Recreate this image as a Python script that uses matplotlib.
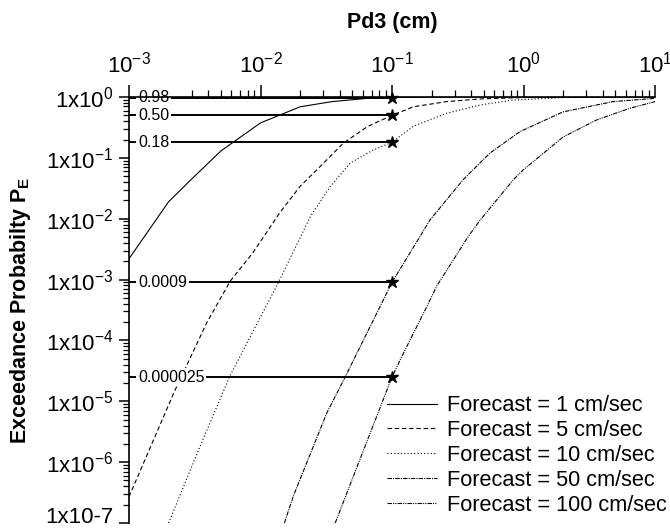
import numpy as np
import matplotlib
matplotlib.use("Agg")
import matplotlib.pyplot as plt
from matplotlib.ticker import FixedLocator, FixedFormatter, LogLocator, NullFormatter

plt.rcParams['font.family'] = ['Liberation Sans', 'DejaVu Sans']
plt.rcParams['mathtext.fontset'] = 'custom'
plt.rcParams['mathtext.rm'] = 'Liberation Sans'
plt.rcParams['mathtext.bf'] = 'Liberation Sans:bold'
plt.rcParams['mathtext.default'] = 'regular'

# curves (Pd3 in cm, exceedance probability)
x_f1 = [0.001, 0.002, 0.003, 0.005, 0.01, 0.02, 0.035, 0.065, 0.1, 0.2, 1.0, 10.0]
y_f1 = [0.0022, 0.019, 0.045, 0.13, 0.375, 0.69, 0.84, 0.95, 0.98, 0.998, 1.0, 1.0]

x_f5 = [0.001, 0.0022, 0.0039, 0.0059, 0.0088, 0.014, 0.02, 0.0284, 0.0426, 0.065,
        0.1, 0.145, 0.26, 0.47, 1.0, 10.0]
y_f5 = [2.7e-7, 1.4e-5, 1.95e-4, 9.5e-4, 0.0028, 0.0125, 0.034, 0.072, 0.174, 0.326,
        0.5, 0.69, 0.84, 0.93, 0.98, 1.0]

x_f10 = [0.002, 0.0035, 0.0058, 0.0089, 0.0137, 0.024, 0.034, 0.048, 0.072, 0.1,
         0.145, 0.26, 0.47, 0.83, 2.0, 10.0]
y_f10 = [1e-7, 1.9e-6, 2.5e-5, 1.5e-4, 9e-4, 0.011, 0.034, 0.082, 0.135, 0.18,
         0.33, 0.54, 0.74, 0.89, 0.98, 1.0]

x_f50 = [0.0152, 0.0178, 0.032, 0.044, 0.1, 0.195, 0.348, 0.556, 0.94,
         2.0, 4.8, 10.0]
y_f50 = [1e-7, 2.8e-7, 6.5e-6, 2.5e-5, 9e-4, 0.0096, 0.044, 0.12, 0.27,
         0.57, 0.84, 0.95]

x_f100 = [0.037, 0.0546, 0.1, 0.119, 0.184, 0.22, 0.38, 0.47, 0.84, 1.0, 2.0, 3.6,
          6.4, 10.0]
y_f100 = [1e-7, 8.7e-7, 2.5e-5, 5.5e-5, 3.6e-4, 8e-4, 0.0051, 0.0096, 0.044, 0.064,
          0.22, 0.42, 0.65, 0.84]

labels = ['Forecast = 1 cm/sec', 'Forecast = 5 cm/sec', 'Forecast = 10 cm/sec',
          'Forecast = 50 cm/sec', 'Forecast = 100 cm/sec']

# probability levels marked at Pd3 = 0.1 cm
lvl_x = 0.1
lvl_y = [0.98, 0.5, 0.18, 0.0009, 0.000025]
lvl_txt = ['0.98', '0.50', '0.18', '0.0009', '0.000025']

ytick_vals = [1e0, 1e-1, 1e-2, 1e-3, 1e-4, 1e-5, 1e-6, 1e-7]
ytick_txt = ['1x10$^{0}$', '1x10$^{-1}$', '1x10$^{-2}$', '1x10$^{-3}$',
             '1x10$^{-4}$', '1x10$^{-5}$', '1x10$^{-6}$', '1x10-7']
xtick_vals = [1e-3, 1e-2, 1e-1, 1e0, 1e1]
xtick_txt = ['10$^{-3}$', '10$^{-2}$', '10$^{-1}$', '10$^{0}$', '10$^{1}$']

fig = plt.figure(figsize=(6.7, 5.31), dpi=100)
ax = fig.add_axes([129 / 670, 8 / 531, 526 / 670, 426 / 531])

styles = ['-', (0, (4, 2.5)), (0, (1, 2)), (0, (4, 1, 1, 1)), (0, (4, 1, 1, 1, 1, 1))]
series = [(x_f1, y_f1), (x_f5, y_f5), (x_f10, y_f10), (x_f50, y_f50), (x_f100, y_f100)]
for (xs, ys), ls, lab in zip(series, styles, labels):
    ax.plot(xs, ys, color='black', lw=0.8, ls=ls, label=lab)

for yv, t in zip(lvl_y, lvl_txt):
    ax.plot([1e-3, lvl_x], [yv, yv], color='black', lw=1.4, solid_capstyle='butt')
    ax.plot([lvl_x], [yv], marker='*', color='black', ms=9, clip_on=False, zorder=5)
    ax.annotate(t, xy=(0, yv), xycoords=('axes fraction', 'data'),
                xytext=(6.5, 0), textcoords='offset points', va='center', ha='left',
                fontsize=11.5, bbox=dict(boxstyle='square,pad=0.1', fc='white', ec='none'),
                zorder=4)

ax.set_xscale('log')
ax.set_yscale('log')
ax.set_xlim(1e-3, 1e1)
ax.set_ylim(1e-7, 1e0)

for s in ['bottom', 'right']:
    ax.spines[s].set_visible(False)
for s in ['top', 'left']:
    ax.spines[s].set_linewidth(1.2)
    ax.spines[s].set_zorder(6)

ax.xaxis.set_ticks_position('top')
ax.xaxis.set_label_position('top')
ax.xaxis.set_major_locator(FixedLocator(xtick_vals))
ax.xaxis.set_major_formatter(FixedFormatter(xtick_txt))
ax.xaxis.set_minor_locator(LogLocator(base=10, subs=np.arange(2, 10)))
ax.xaxis.set_minor_formatter(NullFormatter())
ax.yaxis.set_major_locator(FixedLocator(ytick_vals))
ax.yaxis.set_major_formatter(FixedFormatter(ytick_txt))
ax.yaxis.set_minor_locator(LogLocator(base=10, subs=np.arange(2, 10)))
ax.yaxis.set_minor_formatter(NullFormatter())

ax.tick_params(axis='x', which='major', direction='out', length=9, width=1.1,
               labelsize=16, pad=5)
ax.tick_params(axis='x', which='minor', direction='out', length=5, width=0.9)
ax.tick_params(axis='y', which='major', direction='out', length=7, width=1.1,
               labelsize=16, pad=4)
ax.tick_params(axis='y', which='minor', direction='out', length=4.5, width=0.9)

ax.set_xlabel('Pd3 (cm)', fontsize=15.5, fontweight='bold', labelpad=17)
ax.set_ylabel('Exceedance Probabilty P$_{\\mathbf{E}}$', fontsize=15.5, fontweight='bold')
ax.yaxis.set_label_coords(-0.183, 0.5)

ax.legend(loc='upper left', bbox_to_anchor=(0.49, 0.30), frameon=False,
          fontsize=15.7, handlelength=2.3, handletextpad=0.46, labelspacing=0.18,
          borderpad=0, borderaxespad=0)

fig.canvas.draw()
for tk in ax.yaxis.get_major_ticks():
    if tk.label1.get_text() == '1x10-7':
        tk.label1.set_va('baseline')

fig.savefig('out.png', dpi=100)
